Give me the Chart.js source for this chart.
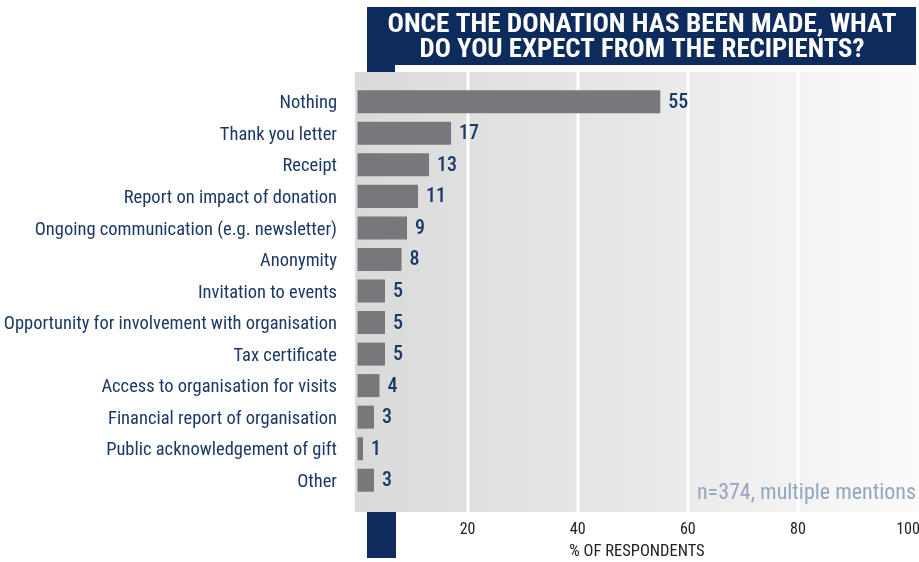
<!DOCTYPE html>
<html>
<head>
<meta charset="utf-8">
<script src="https://cdn.jsdelivr.net/npm/chart.js@4.4.1/dist/chart.umd.min.js"></script>
<style>
  html, body { margin: 0; padding: 0; background: #fff; }
  #wrap { position: relative; width: 919px; height: 562px; }
</style>
</head>
<body>
<div id="wrap"><canvas id="expectChart"></canvas></div>
<script>
// Survey answers, top to bottom
const categories = [
  'Nothing',
  'Thank you letter',
  'Receipt',
  'Report on impact of donation',
  'Ongoing communication (e.g. newsletter)',
  'Anonymity',
  'Invitation to events',
  'Opportunity for involvement with organisation',
  'Tax certificate',
  'Access to organisation for visits',
  'Financial report of organisation',
  'Public acknowledgement of gift',
  'Other'
];
// Share of respondents in %
const shares = [55, 17, 13, 11, 9, 8, 5, 5, 5, 4, 3, 1, 3];
const tickValues = [20, 40, 60, 80, 100];
const titleLines = ['ONCE THE DONATION HAS BEEN MADE, WHAT', 'DO YOU EXPECT FROM THE RECIPIENTS?'];
const axisTitle = '% OF RESPONDENTS';
const sampleNote = 'n=374, multiple mentions';

const NARROW = "'Roboto Condensed', 'Liberation Sans Narrow', Roboto, sans-serif";
const NAVY = '#0d2b5c';
const TEXT_NAVY = '#1b3966';
const BAR_GREY = '#77787c';

// draws text squeezed/stretched to a given width
function fitText(ctx, text, cx, y, width) {
  const w = ctx.measureText(text).width;
  const k = width / w;
  ctx.save();
  ctx.translate(cx, y);
  ctx.scale(k, 1);
  ctx.fillText(text, 0, 0);
  ctx.restore();
}

// Panel, gridlines and the navy frame pieces
const backdrop = {
  id: 'backdrop',
  beforeDraw(chart) {
    const { ctx, chartArea, scales } = chart;
    const panelTop = 72, panelBottom = 512;
    ctx.save();
    ctx.fillStyle = '#fff';
    ctx.fillRect(0, 0, chart.width, chart.height);

    ctx.fillStyle = NAVY;
    ctx.fillRect(367, 7, 549, 58);
    ctx.fillRect(367, 64, 28, 8);
    ctx.fillRect(367, panelBottom, 29, 46);

    const grad = ctx.createLinearGradient(chartArea.left, 0, chartArea.right, 0);
    grad.addColorStop(0, '#dadada');
    grad.addColorStop(0.5, '#e8e8e8');
    grad.addColorStop(1, '#fbfbfb');
    ctx.fillStyle = grad;
    ctx.fillRect(chartArea.left, panelTop, chartArea.right - chartArea.left, panelBottom - panelTop);

    ctx.fillStyle = '#fff';
    tickValues.slice(0, -1).forEach(v => {
      const x = Math.round(scales.x.getPixelForValue(v));
      ctx.fillRect(x - 1.5, panelTop, 3, panelBottom - panelTop);
    });
    ctx.restore();
  },
  afterDatasetsDraw(chart) {
    const { ctx } = chart;
    const meta = chart.getDatasetMeta(0);
    ctx.save();
    ctx.fillStyle = TEXT_NAVY;
    ctx.font = '500 20px ' + NARROW;
    ctx.textAlign = 'left';
    ctx.textBaseline = 'middle';
    meta.data.forEach((bar, i) => {
      ctx.fillText(String(shares[i]), bar.x + 8, bar.y + 1);
    });

    ctx.fillStyle = '#94a6bf';
    ctx.font = '22px ' + NARROW;
    ctx.textAlign = 'right';
    ctx.textBaseline = 'alphabetic';
    ctx.fillText(sampleNote, 916, 499);
    ctx.restore();
  },
  afterDraw(chart) {
    const { ctx } = chart;
    ctx.save();
    ctx.fillStyle = '#fff';
    ctx.font = 'bold 25px ' + NARROW;
    ctx.textAlign = 'center';
    ctx.textBaseline = 'alphabetic';
    fitText(ctx, titleLines[0], 642, 32, 509);
    fitText(ctx, titleLines[1], 642, 57, 445);
    ctx.restore();
  }
};

new Chart(document.getElementById('expectChart'), {
  type: 'bar',
  data: {
    labels: categories,
    datasets: [{
      data: shares,
      backgroundColor: BAR_GREY,
      borderWidth: 0,
      categoryPercentage: 1,
      barPercentage: 0.73
    }]
  },
  options: {
    indexAxis: 'y',
    responsive: true,
    maintainAspectRatio: false,
    animation: false,
    layout: { padding: { top: 86, right: 0, bottom: 0, left: 0 } },
    plugins: {
      legend: { display: false },
      tooltip: { enabled: false }
    },
    scales: {
      x: {
        min: -0.45,
        max: 102,
        afterBuildTicks: axis => { axis.ticks = tickValues.map(v => ({ value: v })); },
        afterFit: axis => {
          axis.height = 66;
          axis.paddingLeft = 0;
          axis.paddingRight = 0;
        },
        grid: { display: false, drawTicks: false },
        border: { display: false },
        ticks: {
          padding: 24,
          color: '#222',
          font: { family: NARROW, size: 16 },
          maxRotation: 0
        },
        title: {
          display: true,
          text: axisTitle,
          color: '#222',
          padding: { top: 0, bottom: 0 },
          font: { family: NARROW, size: 16.5 }
        }
      },
      y: {
        afterFit: axis => {
          axis.width = 355;
          axis.paddingTop = 0;
          axis.paddingBottom = 0;
        },
        grid: { display: false, drawTicks: false },
        border: { display: false },
        ticks: {
          padding: 18,
          labelOffset: 2,
          color: TEXT_NAVY,
          font: { family: NARROW, size: 18.5 }
        }
      }
    }
  },
  plugins: [backdrop]
});
</script>
</body>
</html>
